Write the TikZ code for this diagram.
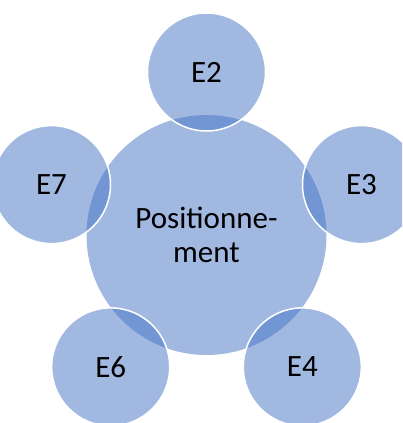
\documentclass[tikz,border=0pt]{standalone}
\usepackage{fontspec}
\setmainfont{Carlito}
\definecolor{officeblue}{HTML}{4472C4}
\begin{document}
\begin{tikzpicture}[x=1pt,y=1pt,
  hub/.style={circle, fill=officeblue, fill opacity=0.5, text opacity=1, minimum size=240pt, inner sep=0pt, align=center, font=\fontsize{31}{34}\selectfont},
  sat/.style={circle, fill=officeblue, fill opacity=0.5, draw=white, draw opacity=1, line width=1.5pt, text opacity=1, minimum size=118pt, inner sep=0pt, font=\fontsize{31}{34}\selectfont}]
\useasboundingbox (0,0) rectangle (402,-423);
\begin{scope}
\clip (0,0) rectangle (402,-423);
\node[hub] (c) at (206.5,-235) {Positionne-\\ment};
\node[sat] (e2) at (206.5,-72) {E2};
\node[sat] (e3) at (361.5,-184.6) {E3};
\node[sat] (e4) at (302.3,-366.9) {E4};
\node[sat] (e6) at (110.7,-366.9) {E6};
\node[sat] (e7) at (51.5,-184.6) {E7};
\end{scope}
\end{tikzpicture}
\end{document}
